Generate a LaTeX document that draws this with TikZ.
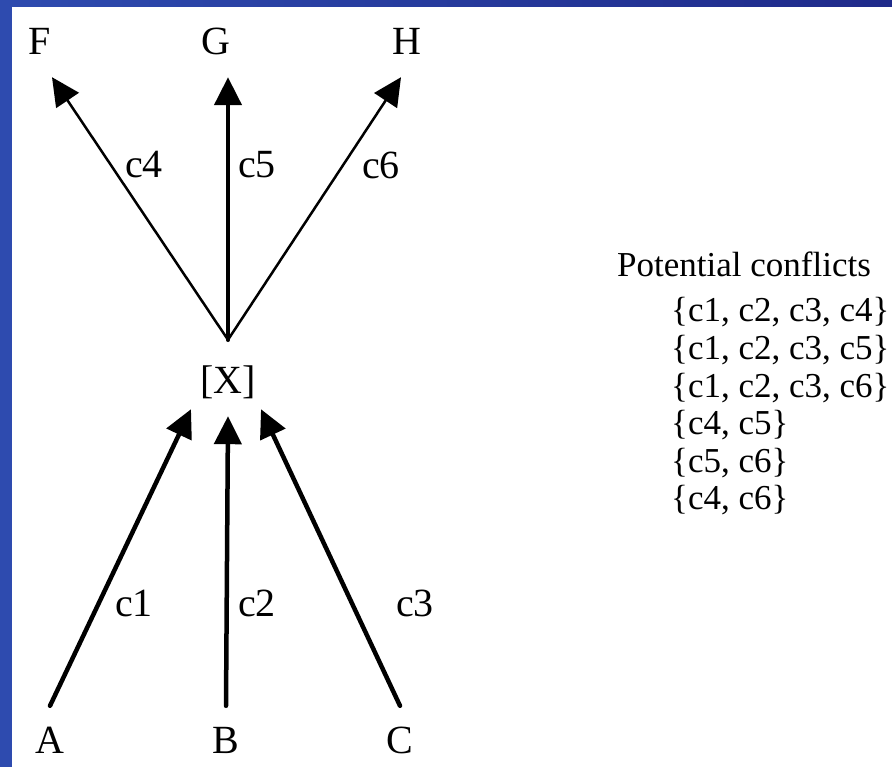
\documentclass[tikz,border=0pt]{standalone}
\usepackage{fontspec}
\setmainfont{Liberation Serif}
\usetikzlibrary{arrows.meta,positioning,calc}
\definecolor{slideblue}{HTML}{2E4BAF}
\definecolor{slidedark}{HTML}{1F2A8A}
\tikzset{
  vtx/.style={inner sep=0pt, anchor=base, font=\fontsize{40}{48}\selectfont},
  elbl/.style={inner sep=0pt, font=\fontsize{40}{48}\selectfont},
  conf/.style={inner sep=0pt, anchor=base west, font=\fontsize{35}{42}\selectfont},
  thinarr/.style={-{Triangle[length=28pt,width=27pt]}, line width=2.5pt, line cap=round},
  thickarr/.style={-{Triangle[length=28pt,width=27pt]}, line width=4.5pt, line cap=round}}

\begin{document}
\begin{tikzpicture}[x=1pt,y=-1pt]
  \useasboundingbox (0,0) rectangle (892,767);
  \fill[white] (0,0) rectangle (892,767);
  \fill[slideblue] (0,0) rectangle (12,767);
  \shade[left color=slideblue, right color=slidedark] (0,0) rectangle (892,7);

  \node[vtx, text height=27pt, text depth=22pt] (F) at (40,55) {F};
  \node[vtx, text height=27pt, text depth=22pt] (G) at (216,55) {G};
  \node[vtx, text height=27pt, text depth=22pt] (H) at (407,55) {H};
  \node[vtx, text height=53pt, text depth=16pt] (X) at (228,393) {[X]};
  \node[vtx, text height=47pt] (A) at (50,753) {A};
  \node[vtx, text height=47pt] (B) at (226,753) {B};
  \node[vtx, text height=47pt] (C) at (400,753) {C};

  \draw[thinarr] (X.north) -- ([xshift=12pt]F.south);
  \draw[thickarr] (X.north) -- (X.north |- G.south);
  \draw[thinarr] (X.north) -- ([xshift=-6pt]H.south);
  \draw[thickarr] (A.north) -- ([xshift=-37pt]X.south);
  \draw[thickarr] (B.north) -- ([yshift=-7pt]X.south);
  \draw[thickarr] (C.north) -- ([xshift=33pt]X.south);

  \node[elbl] (c4) at (144,165) {c4};
  \node[elbl] (c5) at (257,165) {c5};
  \node[elbl] (c6) at (381,165) {c6};
  \node[elbl] (c1) at (134,603) {c1};
  \node[elbl] (c2) at (257,603) {c2};
  \node[elbl] (c3) at (415,603) {c3};

  \node[conf] (pc) at (617,277) {Potential conflicts};
  \foreach \s [count=\i] in {{\{c1, c2, c3, c4\}}, {\{c1, c2, c3, c5\}},
      {\{c1, c2, c3, c6\}}, {\{c4, c5\}}, {\{c5, c6\}}, {\{c4, c6\}}}
    \node[conf] (set\i) at (671,{322+37.5*(\i-1)}) {\s};
\end{tikzpicture}
\end{document}
